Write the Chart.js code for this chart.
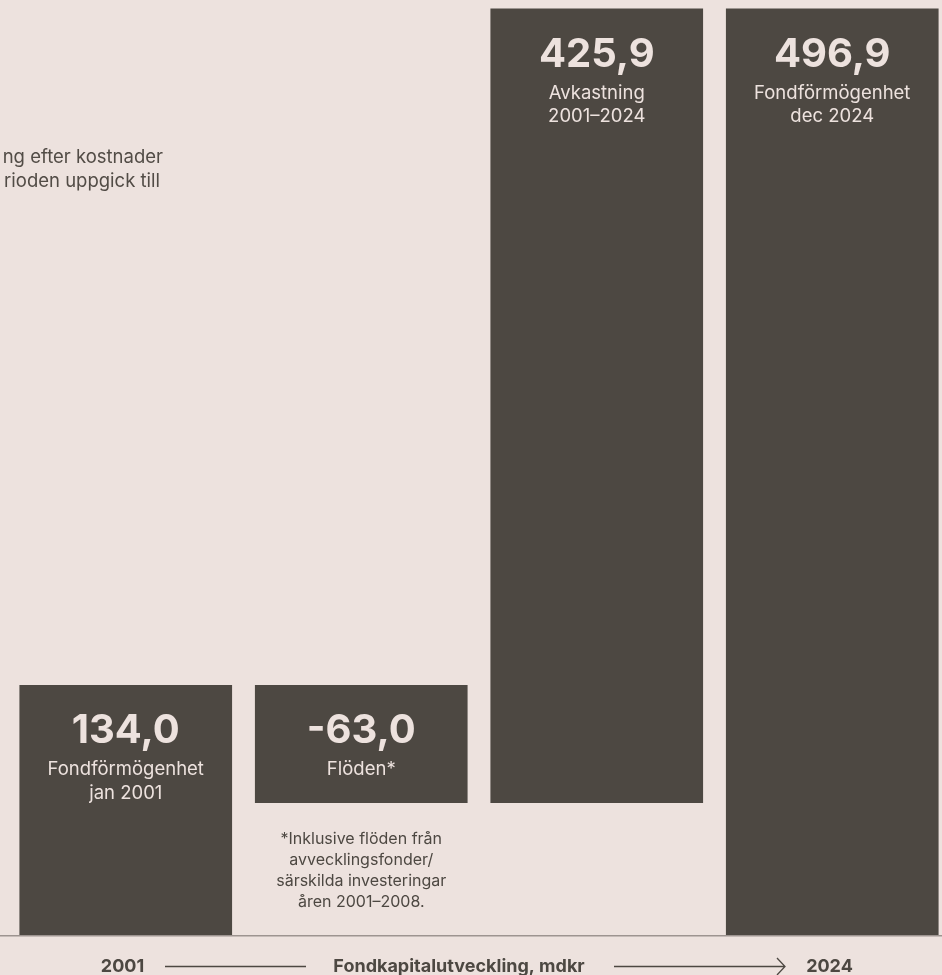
<!DOCTYPE html>
<html>
<head>
<meta charset="utf-8">
<script src="https://cdn.jsdelivr.net/npm/chart.js@4/dist/chart.umd.min.js"></script>
<style>
  html, body { margin: 0; padding: 0; background: #ede2de; overflow: hidden; width: 942px; height: 975px; }
  #wrap { position: absolute; left: 0; top: 0; width: 960px; height: 975px; }
  canvas { display: block; }
</style>
</head>
<body>
<div id="wrap"><canvas id="c" width="960" height="975"></canvas></div>
<script>
// ---- Data ----
const categories = ['Fondförmögenhet jan 2001', 'Flöden*', 'Avkastning 2001–2024', 'Fondförmögenhet dec 2024'];
const changes = [134.0, -63.0, 425.9, 496.9];        // mdkr
const isTotal = [true, false, false, true];
const valueLabels = ['134,0', '-63,0', '425,9', '496,9'];
const labelLines = [['Fondförmögenhet', 'jan 2001'], ['Flöden*'], ['Avkastning', '2001–2024'], ['Fondförmögenhet', 'dec 2024']];
const footnoteLines = ['*Inklusive flöden från', 'avvecklingsfonder/', 'särskilda investeringar', 'åren 2001–2008.'];
const introLines = ['ng efter kostnader', 'rioden uppgick till'];
const axisStart = '2001';
const axisEnd = '2024';
const axisTitle = 'Fondkapitalutveckling, mdkr';

// waterfall ranges built from the values
const ranges = [];
let running = 0;
changes.forEach((v, i) => {
  if (isTotal[i]) { ranges.push([0, v]); running = v; }
  else { const s = running; running = running + v; ranges.push([Math.min(s, running), Math.max(s, running)]); }
});

const BG = '#ede2de';
const BAR = '#4d4842';
const LIGHT = '#ede2de';
const FONT = 'Inter, "Noto Sans", sans-serif';

const decor = {
  id: 'decor',
  beforeDraw(chart) {
    const ctx = chart.ctx;
    ctx.save();
    ctx.fillStyle = BG;
    ctx.fillRect(0, 0, chart.width, chart.height);
    ctx.restore();
  },
  afterDatasetsDraw(chart) {
    const ctx = chart.ctx;
    const meta = chart.getDatasetMeta(0);
    ctx.save();
    ctx.textAlign = 'center';
    ctx.textBaseline = 'alphabetic';
    meta.data.forEach((el, i) => {
      const top = Math.min(el.y, el.base);
      ctx.fillStyle = LIGHT;
      ctx.font = 'bold 40px ' + FONT;
      ctx.fillText(valueLabels[i], el.x, top + 58);
      ctx.font = '18.5px ' + FONT;
      labelLines[i].forEach((ln, j) => ctx.fillText(ln, el.x, top + 90 + j * 23.5));
    });
    // footnote under the flow bar
    const fb = meta.data[1];
    const bottom = Math.max(fb.y, fb.base);
    ctx.fillStyle = BAR;
    ctx.font = '16px ' + FONT;
    footnoteLines.forEach((ln, j) => ctx.fillText(ln, fb.x, bottom + 41 + j * 21));

    // baseline
    const yb = chart.scales.y.getPixelForValue(0);
    ctx.fillStyle = '#9d9490';
    ctx.fillRect(0, yb, 942, 1.5);

    // intro text (cropped at left)
    ctx.fillStyle = '#524c46';
    ctx.font = '18.5px ' + FONT;
    ctx.textAlign = 'right';
    ctx.fillText(introLines[0], 163, 162.5);
    ctx.fillText(introLines[1], 160, 186.5);

    // bottom axis caption
    ctx.fillStyle = BAR;
    ctx.font = 'bold 18px ' + FONT;
    ctx.textAlign = 'center';
    ctx.fillText(axisStart, 122.5, 972);
    ctx.fillText(axisTitle, 459, 972);
    ctx.fillText(axisEnd, 829.5, 972);
    ctx.strokeStyle = BAR;
    ctx.lineWidth = 1.3;
    ctx.beginPath();
    ctx.moveTo(165, 966.5); ctx.lineTo(306, 966.5);
    ctx.moveTo(614, 966.5); ctx.lineTo(785, 966.5);
    ctx.moveTo(777, 958); ctx.lineTo(785, 966.5); ctx.lineTo(777, 975);
    ctx.stroke();
    ctx.restore();
  }
};

new Chart(document.getElementById('c'), {
  type: 'bar',
  data: {
    labels: categories,
    datasets: [{
      data: ranges,
      backgroundColor: BAR,
      borderWidth: 0,
      borderSkipped: false,
      barThickness: 212
    }]
  },
  options: {
    responsive: false,
    animation: false,
    devicePixelRatio: 1,
    layout: { padding: { left: 8, right: 10, top: 0, bottom: 40 } },
    plugins: { legend: { display: false }, tooltip: { enabled: false } },
    scales: {
      x: { display: false, offset: true },
      y: { display: false, min: 0, max: 501.7 }
    }
  },
  plugins: [decor]
});
</script>
</body>
</html>
